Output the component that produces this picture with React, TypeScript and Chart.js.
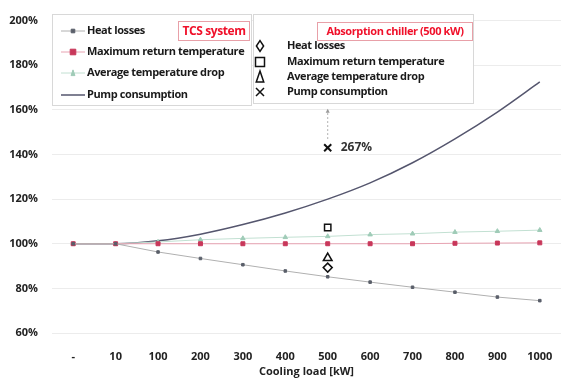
import React, { useEffect, useRef } from "react";
import { Chart, registerables } from "chart.js";

Chart.register(...registerables);

const categories = ["-", "10", "100", "200", "300", "400", "500", "600", "700", "800", "900", "1000"];
const heatLosses = [100, 100, 96.3, 93.4, 90.6, 87.8, 85.2, 82.8, 80.5, 78.3, 76.1, 74.5];
const maxReturnTemp = [100, 100, 100, 100, 100, 100, 100, 100, 100, 100.2, 100.3, 100.4];
const avgTempDrop = [100, 100, 100.8, 101.8, 102.4, 102.9, 103.3, 104.1, 104.5, 105.2, 105.6, 106.1];
const pumpConsumption = [100, 100, 101.3, 104.3, 108.6, 113.8, 120.0, 127.3, 136.3, 147.0, 159.0, 172.5];
// Absorption chiller (500 kW) single points
const chillerHeatLosses = [null, null, null, null, null, null, 89.3, null, null, null, null, null];
const chillerMaxReturn = [null, null, null, null, null, null, 107.3, null, null, null, null, null];
const chillerAvgDrop = [null, null, null, null, null, null, 93.6, null, null, null, null, null];
const chillerPump = [null, null, null, null, null, null, 143.0, null, null, null, null, null];
const chillerPumpActual = "267%";
const chillerArrowTop = 160;
const yTicks = [60, 80, 100, 120, 140, 160, 180, 200];

const FONT = "'Open Sans', sans-serif";
const FS = 11;

const legendPlugin = {
  id: "customLegends",
  afterDraw(chart: any) {
    const ctx = chart.ctx;
    const xs = chart.scales.x;
    const ys = chart.scales.y;
    ctx.save();

    // dotted arrow from chiller pump point upward
    const px = xs.getPixelForValue(6);
    const py = ys.getPixelForValue(chillerPump[6] as number);
    const pt = ys.getPixelForValue(chillerArrowTop);
    ctx.strokeStyle = "#9a9a9a";
    ctx.lineWidth = 1;
    ctx.setLineDash([1.5, 2.5]);
    ctx.beginPath();
    ctx.moveTo(px, py - 9);
    ctx.lineTo(px, pt);
    ctx.stroke();
    ctx.setLineDash([]);
    ctx.fillStyle = "#9a9a9a";
    ctx.beginPath();
    ctx.moveTo(px - 2, pt + 3);
    ctx.lineTo(px + 2, pt + 3);
    ctx.lineTo(px, pt - 1);
    ctx.closePath();
    ctx.fill();

    ctx.fillStyle = "#333";
    ctx.font = `bold ${FS + 1}px ${FONT}`;
    ctx.textAlign = "left";
    ctx.textBaseline = "middle";
    ctx.fillText(chillerPumpActual, px + 13, py);

    // legend box 2 (behind)
    ctx.fillStyle = "#ffffff";
    ctx.strokeStyle = "#d8d8d8";
    ctx.lineWidth = 1;
    ctx.fillRect(253, 14, 221, 90);
    ctx.strokeRect(253.5, 14.5, 220, 89);
    // legend box 1
    ctx.fillRect(52, 14, 200, 92);
    ctx.strokeRect(52.5, 14.5, 199, 91);

    ctx.letterSpacing = "-0.4px";
    const ds = chart.data.datasets;
    const rows1 = [31, 52, 73, 95];
    for (let i = 0; i < 4; i++) {
      const d = ds[i];
      const y = rows1[i];
      ctx.strokeStyle = d.borderColor;
      ctx.lineWidth = d.borderWidth;
      ctx.beginPath();
      ctx.moveTo(61, y);
      ctx.lineTo(85, y);
      ctx.stroke();
      if (d.pointRadius > 0) {
        ctx.fillStyle = d.pointBackgroundColor;
        ctx.strokeStyle = d.pointBorderColor;
        ctx.lineWidth = 1;
        drawMarker(ctx, d.pointStyle, 73, y, d.pointRadius);
      }
      ctx.fillStyle = "#1a1a1a";
      ctx.font = `bold ${FS}px ${FONT}`;
      ctx.textAlign = "left";
      ctx.textBaseline = "middle";
      ctx.fillText(d.label, 87, y);
    }

    const rows2 = [46, 62, 77, 92];
    for (let i = 0; i < 4; i++) {
      const d = ds[i + 4];
      const y = rows2[i];
      ctx.fillStyle = "#ffffff";
      ctx.strokeStyle = "#111";
      ctx.lineWidth = 1.5;
      drawMarker(ctx, d.pointStyle, 260, y, d.pointRadius);
      ctx.fillStyle = "#1a1a1a";
      ctx.font = `bold ${FS}px ${FONT}`;
      ctx.fillText(d.label, 287, y);
    }

    // red titled boxes
    ctx.fillStyle = "#ffffff";
    ctx.strokeStyle = "#e8a0a8";
    ctx.lineWidth = 1;
    ctx.fillRect(178, 21, 72, 20);
    ctx.strokeRect(178.5, 21.5, 71, 19);
    ctx.fillRect(317, 22, 156, 19);
    ctx.strokeRect(317.5, 22.5, 155, 18);
    ctx.fillStyle = "#f0102a";
    ctx.font = `bold ${FS + 1}px ${FONT}`;
    ctx.textAlign = "center";
    ctx.fillText("TCS system", 214, 31.5);
    ctx.font = `bold ${FS}px ${FONT}`;
    ctx.fillText("Absorption chiller (500 kW)", 395, 32);
    ctx.restore();
  },
};

function drawMarker(ctx: CanvasRenderingContext2D, style: string, x: number, y: number, r: number) {
  ctx.beginPath();
  if (style === "rect") {
    ctx.rect(x - r, y - r, 2 * r, 2 * r);
    ctx.fill();
    ctx.stroke();
  } else if (style === "rectRot") {
    ctx.moveTo(x, y - r * 1.2);
    ctx.lineTo(x + r * 0.8, y);
    ctx.lineTo(x, y + r * 1.2);
    ctx.lineTo(x - r * 0.8, y);
    ctx.closePath();
    ctx.fill();
    ctx.stroke();
  } else if (style === "triangle") {
    ctx.moveTo(x, y - r * 1.2);
    ctx.lineTo(x + r * 0.75, y + r);
    ctx.lineTo(x - r * 0.75, y + r);
    ctx.closePath();
    ctx.fill();
    ctx.stroke();
  } else if (style === "crossRot") {
    ctx.moveTo(x - r * 0.8, y - r * 0.8);
    ctx.lineTo(x + r * 0.8, y + r * 0.8);
    ctx.moveTo(x + r * 0.8, y - r * 0.8);
    ctx.lineTo(x - r * 0.8, y + r * 0.8);
    ctx.stroke();
  } else {
    ctx.arc(x, y, r, 0, Math.PI * 2);
    ctx.fill();
    ctx.stroke();
  }
}

export default function App() {
  const ref = useRef<HTMLCanvasElement>(null);
  useEffect(() => {
    if (!ref.current) return;
    const chart = new Chart(ref.current, {
      type: "line",
      data: {
        labels: categories,
        datasets: [
          {
            label: "Heat losses",
            data: heatLosses,
            borderColor: "#b0b0b0",
            borderWidth: 1,
            pointStyle: "rect",
            pointRadius: 1.8,
            pointBackgroundColor: "#5a5f6a",
            pointBorderColor: "#5a5f6a",
          },
          {
            label: "Maximum return temperature",
            data: maxReturnTemp,
            borderColor: "#e8a3b2",
            borderWidth: 1,
            pointStyle: "rect",
            pointRadius: 2.8,
            pointBackgroundColor: "#c8375a",
            pointBorderColor: "#c8375a",
          },
          {
            label: "Average temperature drop",
            data: avgTempDrop,
            borderColor: "#c2e0d2",
            borderWidth: 1,
            pointStyle: "triangle",
            pointRadius: 2.6,
            pointBackgroundColor: "#9fcbb7",
            pointBorderColor: "#9fcbb7",
          },
          {
            label: "Pump consumption",
            data: pumpConsumption,
            borderColor: "#55566e",
            borderWidth: 1.5,
            pointRadius: 0,
            cubicInterpolationMode: "monotone",
          },
          {
            label: "Heat losses",
            data: chillerHeatLosses,
            showLine: false,
            pointStyle: "rectRot",
            pointRadius: 4.5,
            pointBackgroundColor: "#ffffff",
            pointBorderColor: "#111",
            pointBorderWidth: 1.5,
          },
          {
            label: "Maximum return temperature",
            data: chillerMaxReturn,
            showLine: false,
            pointStyle: "rect",
            pointRadius: 4.5,
            pointBackgroundColor: "#ffffff",
            pointBorderColor: "#111",
            pointBorderWidth: 1.5,
          },
          {
            label: "Average temperature drop",
            data: chillerAvgDrop,
            showLine: false,
            pointStyle: "triangle",
            pointRadius: 5,
            pointBackgroundColor: "#ffffff",
            pointBorderColor: "#111",
            pointBorderWidth: 1.5,
          },
          {
            label: "Pump consumption",
            data: chillerPump,
            showLine: false,
            pointStyle: "crossRot",
            pointRadius: 5,
            pointBackgroundColor: "#ffffff",
            pointBorderColor: "#111",
            pointBorderWidth: 2,
          },
        ] as any,
      },
      options: {
        animation: false,
        responsive: false,
        maintainAspectRatio: false,
        layout: { padding: { top: 16, right: 2, left: 0, bottom: 0 } },
        plugins: { legend: { display: false }, tooltip: { enabled: false } },
        scales: {
          x: {
            offset: true,
            grid: { display: false },
            border: { display: false },
            ticks: { color: "#222", font: { family: FONT, size: FS, weight: "bold" }, padding: 9 },
            title: {
              display: true,
              text: "Cooling load [kW]",
              color: "#222",
              font: { family: FONT, size: FS, weight: "bold" },
              padding: { top: 3, bottom: 0 },
            },
            afterFit(scale: any) {
              scale.height = 45;
            },
          },
          y: {
            min: 60,
            max: 200,
            afterBuildTicks(scale: any) {
              scale.ticks = yTicks.map((v) => ({ value: v }));
            },
            grid: { color: "#ececec", drawTicks: false },
            border: { display: false },
            ticks: {
              color: "#222",
              font: { family: FONT, size: FS, weight: "bold" },
              padding: 14,
              callback: (v: any) => `${v}%`,
            },
            afterFit(scale: any) {
              scale.width = 52;
            },
          },
        },
      } as any,
      plugins: [legendPlugin],
    });
    return () => chart.destroy();
  }, []);
  return (
    <div style={{ position: "fixed", left: 0, top: 0, width: 568, height: 378, background: "#fff" }}>
      <canvas ref={ref} width={568} height={378} style={{ width: 568, height: 378 }} />
    </div>
  );
}
